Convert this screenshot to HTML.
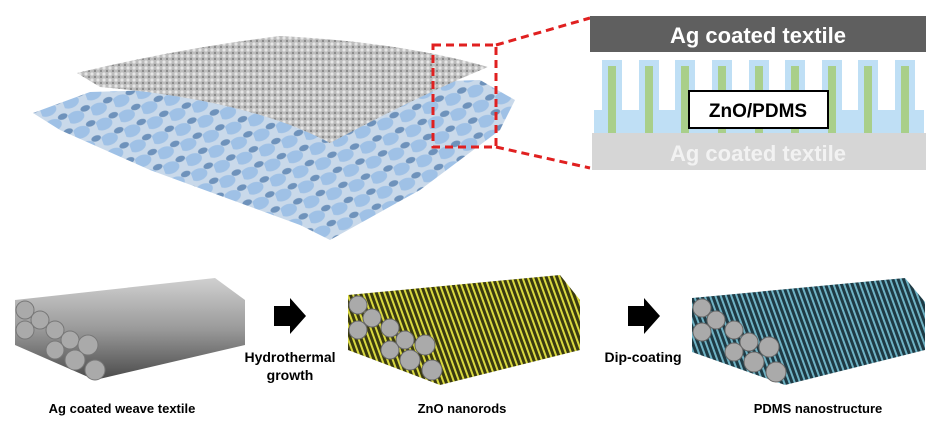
<!DOCTYPE html>
<html><head><meta charset="utf-8"><style>
html,body{margin:0;padding:0;background:#fff;width:941px;height:428px;overflow:hidden}
svg{display:block}
text{font-family:"Liberation Sans",Arial,sans-serif;font-weight:bold}
</style></head><body>
<svg width="941" height="428" viewBox="0 0 941 428">
<defs>
<pattern id="weave" width="24" height="16" patternUnits="userSpaceOnUse" patternTransform="rotate(-20)">
<rect width="24" height="16" fill="#c9d9ea"/>
<ellipse cx="7" cy="8" rx="9" ry="6" fill="#9fc1e6"/>
<ellipse cx="19" cy="3" rx="5" ry="3" fill="#6e92bb"/>
</pattern>
<pattern id="knit" width="6" height="6" patternUnits="userSpaceOnUse">
<rect width="6" height="6" fill="#bdbdbd"/>
<circle cx="2" cy="2" r="1.6" fill="#e6e6e6"/>
<circle cx="5" cy="5" r="1.2" fill="#8a8a8a"/>
</pattern>
<linearGradient id="cyl" x1="0" y1="0" x2="0" y2="1">
<stop offset="0" stop-color="#d0d0d0"/><stop offset="0.5" stop-color="#9a9a9a"/><stop offset="1" stop-color="#4a4a4a"/>
</linearGradient>
<pattern id="zno" width="5" height="5" patternUnits="userSpaceOnUse" patternTransform="rotate(-20)">
<rect width="5" height="5" fill="#3a3a10"/><rect width="2" height="5" fill="#d8d840"/>
</pattern>
<pattern id="pdms" width="5" height="5" patternUnits="userSpaceOnUse" patternTransform="rotate(-20)">
<rect width="5" height="5" fill="#1e3a44"/><rect width="2" height="5" fill="#6fb2c4"/>
</pattern>
</defs>

<path d="M33,113 L90,92 L480,80 L515,100 L500,130 L420,190 L330,240 L300,225 L150,170 L60,130 Z" fill="url(#weave)"/>
<path d="M77,73 Q180,48 280,36 Q400,42 488,67 Q420,95 330,143 Q250,100 100,87 Z" fill="url(#knit)"/>
<rect x="433" y="45" width="63" height="102" fill="none" stroke="#e02020" stroke-width="3" stroke-dasharray="8,5"/>
<line x1="496" y1="45" x2="590" y2="18" stroke="#e02020" stroke-width="3" stroke-dasharray="8,5"/>
<line x1="496" y1="147" x2="590" y2="168" stroke="#e02020" stroke-width="3" stroke-dasharray="8,5"/>

<rect x="590" y="16" width="336" height="36" fill="#5f5f5f"/>
<text x="758" y="43" fill="#fff" font-size="22" text-anchor="middle">Ag coated textile</text>
<rect x="594" y="110" width="330" height="24" fill="#bfdff5"/>
<g fill="#bfdff5">
<rect x="602" y="60" width="20" height="52"/><rect x="639" y="60" width="20" height="52"/><rect x="675" y="60" width="20" height="52"/>
<rect x="712" y="60" width="20" height="52"/><rect x="749" y="60" width="20" height="52"/><rect x="785" y="60" width="20" height="52"/>
<rect x="822" y="60" width="20" height="52"/><rect x="858" y="60" width="20" height="52"/><rect x="895" y="60" width="20" height="52"/>
</g>
<g fill="#a9cf8a">
<rect x="608" y="66" width="8" height="67"/><rect x="645" y="66" width="8" height="67"/><rect x="681" y="66" width="8" height="67"/>
<rect x="718" y="66" width="8" height="67"/><rect x="755" y="66" width="8" height="67"/><rect x="791" y="66" width="8" height="67"/>
<rect x="828" y="66" width="8" height="67"/><rect x="864" y="66" width="8" height="67"/><rect x="901" y="66" width="8" height="67"/>
</g>
<rect x="689" y="91" width="139" height="37" fill="#fff" stroke="#000" stroke-width="2"/>
<text x="758" y="117" fill="#000" font-size="19" text-anchor="middle">ZnO/PDMS</text>
<rect x="592" y="133" width="334" height="37" fill="#d6d6d6"/>
<text x="758" y="161" fill="#f2f2f2" font-size="22" text-anchor="middle">Ag coated textile</text>

<g>
<polygon points="15,300 215,278 245,300 245,345 95,380 15,345" fill="url(#cyl)"/>
<g fill="#aaa" stroke="#777"><circle cx="25" cy="310" r="9"/><circle cx="40" cy="320" r="9"/><circle cx="25" cy="330" r="9"/><circle cx="55" cy="330" r="9"/><circle cx="70" cy="340" r="9"/><circle cx="55" cy="350" r="9"/><circle cx="88" cy="345" r="10"/><circle cx="75" cy="360" r="10"/><circle cx="95" cy="370" r="10"/></g>
</g>
<polygon points="274,306 290,306 290,298 306,316 290,334 290,326 274,326" fill="#000"/>
<text x="290" y="362" font-size="14" text-anchor="middle">Hydrothermal</text>
<text x="290" y="380" font-size="14" text-anchor="middle">growth</text>

<polygon points="348,295 560,275 580,300 580,350 440,385 348,350" fill="url(#zno)"/>
<g fill="#aaa" stroke="#666"><circle cx="358" cy="305" r="9"/><circle cx="372" cy="318" r="9"/><circle cx="358" cy="330" r="9"/><circle cx="390" cy="328" r="9"/><circle cx="405" cy="340" r="9"/><circle cx="390" cy="350" r="9"/><circle cx="425" cy="345" r="10"/><circle cx="410" cy="360" r="10"/><circle cx="432" cy="370" r="10"/></g>
<polygon points="628,306 644,306 644,298 660,316 644,334 644,326 628,326" fill="#000"/>
<text x="643" y="362" font-size="14" text-anchor="middle">Dip-coating</text>

<polygon points="692,298 905,278 925,302 925,350 785,385 692,352" fill="url(#pdms)"/>
<g fill="#aaa" stroke="#666"><circle cx="702" cy="308" r="9"/><circle cx="716" cy="320" r="9"/><circle cx="702" cy="332" r="9"/><circle cx="734" cy="330" r="9"/><circle cx="749" cy="342" r="9"/><circle cx="734" cy="352" r="9"/><circle cx="769" cy="347" r="10"/><circle cx="754" cy="362" r="10"/><circle cx="776" cy="372" r="10"/></g>

<text x="122" y="413" font-size="13" text-anchor="middle">Ag coated weave textile</text>
<text x="462" y="413" font-size="13" text-anchor="middle">ZnO nanorods</text>
<text x="818" y="413" font-size="13" text-anchor="middle">PDMS nanostructure</text>
</svg>
</body></html>
